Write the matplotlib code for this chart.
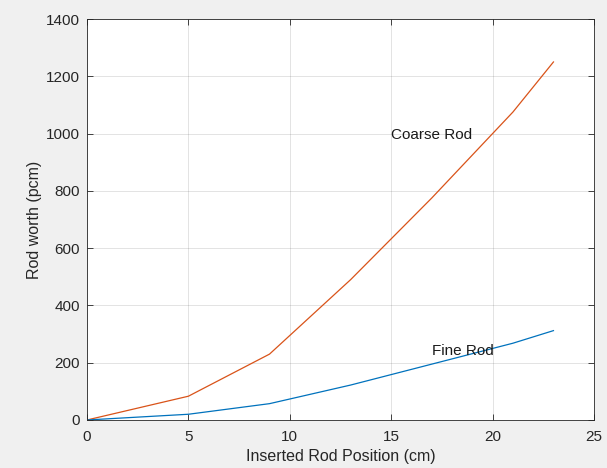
import numpy as np
import matplotlib
matplotlib.use("Agg")
import matplotlib.pyplot as plt

# rod position (cm) and integral rod worth (pcm)
pos = [0, 5, 9, 13, 17, 21, 23]
coarse = [0, 83, 230, 490, 775, 1075, 1250]
fine = [0, 20, 57, 122, 195, 268, 312]

plt.rcParams['font.family'] = ['Liberation Sans', 'DejaVu Sans']

fig = plt.figure(figsize=(6.07, 4.68), dpi=100, facecolor="#f0f0f0")
ax = fig.add_axes([0.1433, 0.1026, 0.8353, 0.8568])

ax.plot(pos, coarse, color="#D95319", lw=0.9)
ax.plot(pos, fine, color="#0072BD", lw=0.9)

ax.text(15, 995, "Coarse Rod", fontsize=11, va="center", ha="left", color="#1a1a1a")
ax.text(17, 242, "Fine Rod", fontsize=11, va="center", ha="left", color="#1a1a1a")

ax.set_xlim(0, 25)
ax.set_ylim(0, 1400)
ax.set_xticks(np.arange(0, 26, 5))
ax.set_yticks(np.arange(0, 1401, 200))
ax.grid(True, color="#262626", alpha=0.15, lw=0.6)
ax.tick_params(direction="in", top=True, right=True, labelsize=11,
               colors="#262626", length=4, width=0.6)
ax.tick_params(axis="x", pad=7)
ax.tick_params(axis="y", pad=5)
for s in ax.spines.values():
    s.set_color("#262626")
    s.set_linewidth(0.6)

ax.set_xlabel("Inserted Rod Position (cm)", fontsize=11.5, color="#262626", labelpad=4)
ax.set_ylabel("Rod worth (pcm)", fontsize=11.5, color="#262626", labelpad=3)

fig.savefig("out.png", dpi=100, facecolor=fig.get_facecolor())
